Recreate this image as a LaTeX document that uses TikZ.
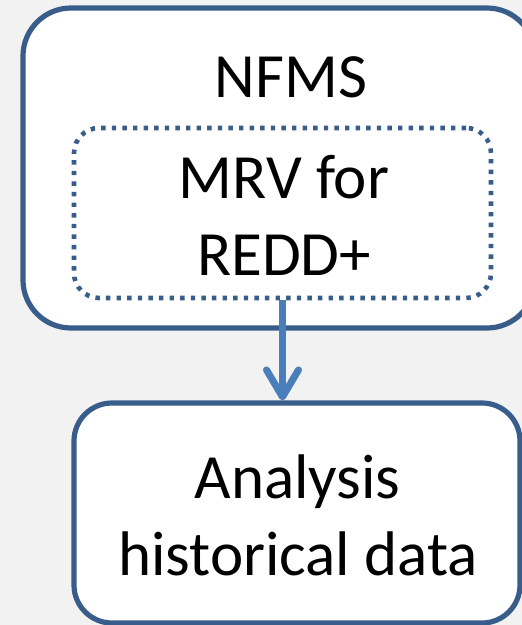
\documentclass[tikz,border=0pt]{standalone}
\usepackage{fontspec}
\setmainfont{Carlito}
\usetikzlibrary{arrows.meta}
\definecolor{pagebg}{HTML}{F2F2F2}
\definecolor{boxline}{HTML}{385D8A}
\definecolor{arrowblue}{HTML}{4A7EBB}
\begin{document}
\begin{tikzpicture}[x=1pt,y=-1pt,
  panel/.style={draw=boxline,line width=5.2pt,fill=white,inner sep=0pt},
  subpanel/.style={draw=boxline,line width=4.6pt,dash pattern=on 4.4pt off 6.2pt,inner sep=0pt},
  caption/.style={anchor=base,inner sep=0pt,font=\fontsize{63}{77}\selectfont},
  flow/.style={draw=arrowblue,line width=7pt,-{Straight Barb[length=27pt,width=32pt,round]}}]
  \useasboundingbox (0,0) rectangle (522,625);
  \clip (0,0) rectangle (522,625);
  \fill[pagebg] (0,0) rectangle (522,625);
  % outer NFMS frame
  \node[panel,rounded corners=48pt,minimum width=512pt,minimum height=320pt] (nfms) at (279,168) {};
  \node[caption] (nfmstext) at (291,97) {NFMS};
  % dotted MRV frame
  \node[subpanel,rounded corners=25pt,minimum width=417pt,minimum height=170pt] (mrv) at (282.5,213) {};
  \node[caption] (mrvline1) at (284,198) {MRV for};
  \node[caption] (mrvline2) at (284,275) {REDD+};
  % analysis box
  \node[panel,rounded corners=38pt,minimum width=446pt,minimum height=220pt] (analysis) at (297,513) {};
  \node[caption] (anline1) at (297.5,498) {Analysis};
  \node[caption] (anline2) at (298,575) {historical data};
  % connector
  \draw[flow] (mrv.south) -- (mrv.south |- analysis.north);
\end{tikzpicture}
\end{document}
